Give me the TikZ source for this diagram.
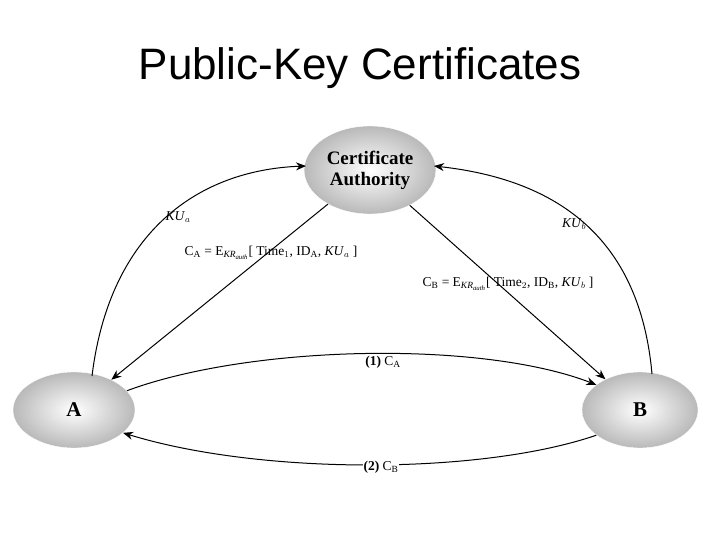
\documentclass[tikz,border=0pt]{standalone}
\usepackage{fontspec}
\setmainfont{Liberation Serif}
\newfontfamily\titlefont{Liberation Sans}
\usetikzlibrary{shapes.geometric,arrows.meta}
\begin{document}
\begin{tikzpicture}[x=1pt,y=-1pt,
                    party/.style={ellipse,inner color=white,outer color=gray!55,draw=white,
                                  font=\bfseries\fontsize{21}{22}\selectfont},
                    link/.style={-{Stealth[length=10pt,width=8pt]},line width=1pt},
                    lab/.style={font=\fontsize{13.5}{14}\selectfont,inner sep=1pt}
                   ]
  \useasboundingbox (0,0) rectangle (720,540);
  \node[font=\titlefont\fontsize{44}{48}\selectfont] (title) at (360,68) {Public-Key Certificates};

  \node[party,minimum width=130,minimum height=88,align=center,font=\bfseries\fontsize{19}{21}\selectfont]
     (ca) at (370,170) {Certificate\\Authority};
  \node[party,minimum width=122,minimum height=76] (a) at (74,410) {A};
  \node[party,minimum width=116,minimum height=76] (b) at (640,410) {B};

  \coordinate (caL) at (306,166);
  \coordinate (caR) at (434,166);
  \coordinate (aT) at (92,376);
  \coordinate (bT) at (652,374);

  \draw[link] (aT) .. controls (110,230) and (200,170) .. (caL);
  \draw[link] (bT) .. controls (640,240) and (560,180) .. (caR);
  \draw[link] (ca) -- (a);
  \draw[link] (ca) -- (b);
  \draw[link] (a.20) .. controls (250,345) and (480,340) .. (b.150);
  \draw[link] (b.-150) .. controls (480,475) and (260,475) .. (a.-25);

  \node[lab] (kua) at (178,217) {\textit{KU}$_a$};
  \node[lab] (kub) at (574,224) {\textit{KU}$_b$};
  \node[lab] (certa) at (271,253) {C$_{\mathrm{A}}$ = E$_{\mathit{KR_{auth}}}$[ Time$_1$, ID$_{\mathrm{A}}$, \textit{KU}$_a$ ]};
  \node[lab] (certb) at (508,284) {C$_{\mathrm{B}}$ = E$_{\mathit{KR_{auth}}}$[ Time$_2$, ID$_{\mathrm{B}}$, \textit{KU}$_b$ ]};
  \node[lab,fill=white] (m1) at (383,362) {\textbf{(1)} C$_{\mathrm{A}}$};
  \node[lab,fill=white] (m2) at (381,467) {\textbf{(2)} C$_{\mathrm{B}}$};
\end{tikzpicture}
\end{document}
